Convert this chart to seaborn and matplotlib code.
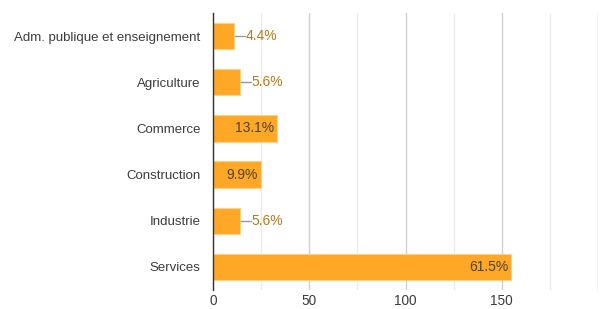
import matplotlib
matplotlib.use('Agg')
import matplotlib.pyplot as plt
import seaborn as sns
import pandas as pd
import numpy as np

categories = ['Adm. publique et enseignement', 'Agriculture', 'Commerce',
              'Construction', 'Industrie', 'Services']
counts = [11, 14, 33, 25, 14, 155]
pct_labels = ['4.4%', '5.6%', '13.1%', '9.9%', '5.6%', '61.5%']

df = pd.DataFrame({'secteur': categories, 'n': counts})

sns.set_style('white')
plt.rcParams['font.family'] = ['Liberation Sans', 'DejaVu Sans']

fig = plt.figure(figsize=(6.06, 3.09), dpi=100)
ax = fig.add_axes([213 / 606, 1 - 290 / 309, 385 / 606, 277 / 309])

sns.barplot(data=df, y='secteur', x='n', orient='h', color='#ffa726',
            saturation=1, width=0.57, edgecolor='#ffd28c', linewidth=0.8, ax=ax)

ax.set_xlim(0, 200)
ax.set_ylim(5.5, -0.5)
ax.set_xticks([0, 50, 100, 150])
ax.set_xticks([25, 75, 125, 175, 200], minor=True)
ax.set_xticklabels(['0', '50', '100', '150'])
ax.grid(axis='x', which='major', color='#d0d0d0', linewidth=1)
ax.grid(axis='x', which='minor', color='#ebebeb', linewidth=1)
ax.axvline(200, color='#cccccc', linewidth=1, zorder=0)
ax.set_axisbelow(True)
for s in ['top', 'right', 'bottom']:
    ax.spines[s].set_visible(False)
ax.spines['left'].set_color('#333333')
ax.spines['left'].set_linewidth(1)
ax.set_xlabel('')
ax.set_ylabel('')
ax.tick_params(axis='both', length=0, colors='#3c3c3c')
ax.tick_params(axis='y', pad=9, labelsize=9.5)
ax.tick_params(axis='x', pad=3, labelsize=9.8)

# value labels: inside when bar is wide enough, outside with leader otherwise
for i, (v, lab) in enumerate(zip(counts, pct_labels)):
    if v >= 20:
        ax.text(v - 1.5, i, lab, ha='right', va='center', fontsize=10, color='#4d4433')
    else:
        ax.plot([v + 0.5, v + 5.5], [i, i], color='#999999', linewidth=1)
        ax.text(v + 6, i, lab, ha='left', va='center', fontsize=10, color='#b57a1a')

fig.savefig('out.png', dpi=100)
